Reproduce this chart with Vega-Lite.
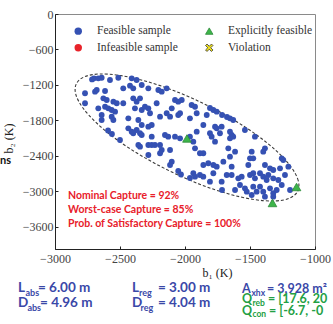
{
  "$schema": "https://vega.github.io/schema/vega-lite/v6.json",
  "width": 260,
  "height": 235,
  "autosize": {"type": "none"},
  "padding": {"left": 55, "top": 14, "right": 18, "bottom": 75},
  "background": "white",
  "config": {
    "view": {"stroke": "#8a8a8a", "strokeWidth": 1},
    "axis": {
      "labelFont": "Liberation Serif", "labelFontSize": 12, "labelColor": "#444",
      "titleFont": "Liberation Serif", "titleFontSize": 12, "titleFontWeight": "normal", "titleColor": "#222",
      "domainColor": "#222", "tickColor": "#222", "tickSize": -3, "grid": false, "labelFlush": false, "labelOverlap": false
    }
  },
  "datasets": {
    "ell": [
      {"i":0,"b1":-1133,"b2":-2995},{"i":1,"b1":-1129,"b2":-2815},{"i":2,"b1":-1184,"b2":-2586},{"i":3,"b1":-1293,"b2":-2323},
      {"i":4,"b1":-1449,"b2":-2044},{"i":5,"b1":-1642,"b2":-1768},{"i":6,"b1":-1858,"b2":-1513},{"i":7,"b1":-2083,"b2":-1298},
      {"i":8,"b1":-2301,"b2":-1136},{"i":9,"b1":-2497,"b2":-1040},{"i":10,"b1":-2659,"b2":-1014},{"i":11,"b1":-2774,"b2":-1062},
      {"i":12,"b1":-2836,"b2":-1180},{"i":13,"b1":-2840,"b2":-1359},{"i":14,"b1":-2785,"b2":-1588},{"i":15,"b1":-2676,"b2":-1851},
      {"i":16,"b1":-2520,"b2":-2131},{"i":17,"b1":-2327,"b2":-2407},{"i":18,"b1":-2111,"b2":-2661},{"i":19,"b1":-1887,"b2":-2877},
      {"i":20,"b1":-1669,"b2":-3038},{"i":21,"b1":-1472,"b2":-3135},{"i":22,"b1":-1311,"b2":-3160},{"i":23,"b1":-1195,"b2":-3113}
    ],
    "pts": [
      {"b1":-2715,"b2":-1105,"t":"F"},{"b1":-2700,"b2":-1087,"t":"F"},{"b1":-2667,"b2":-1087,"t":"F"},{"b1":-2641,"b2":-1077,"t":"F"},
      {"b1":-2577,"b2":-1116,"t":"F"},{"b1":-2513,"b2":-1077,"t":"F"},{"b1":-2410,"b2":-1087,"t":"F"},{"b1":-2372,"b2":-1116,"t":"F"},
      {"b1":-2475,"b2":-1256,"t":"F"},{"b1":-2769,"b2":-1340,"t":"F"},{"b1":-2692,"b2":-1313,"t":"F"},{"b1":-2679,"b2":-1284,"t":"F"},
      {"b1":-2615,"b2":-1301,"t":"F"},{"b1":-2423,"b2":-1212,"t":"F"},{"b1":-2398,"b2":-1256,"t":"F"},{"b1":-2333,"b2":-1200,"t":"F"},
      {"b1":-2628,"b2":-1425,"t":"F"},{"b1":-2602,"b2":-1453,"t":"F"},{"b1":-2551,"b2":-1482,"t":"F"},{"b1":-2525,"b2":-1509,"t":"F"},
      {"b1":-2475,"b2":-1509,"t":"F"},{"b1":-2398,"b2":-1425,"t":"F"},{"b1":-2372,"b2":-1482,"t":"F"},{"b1":-2346,"b2":-1425,"t":"F"},
      {"b1":-2769,"b2":-1509,"t":"F"},{"b1":-2667,"b2":-1594,"t":"F"},{"b1":-2615,"b2":-1567,"t":"F"},{"b1":-2590,"b2":-1594,"t":"F"},
      {"b1":-2564,"b2":-1622,"t":"F"},{"b1":-2538,"b2":-1651,"t":"F"},{"b1":-2385,"b2":-1594,"t":"F"},{"b1":-2333,"b2":-1622,"t":"F"},
      {"b1":-2308,"b2":-1567,"t":"F"},{"b1":-2641,"b2":-1707,"t":"F"},{"b1":-2641,"b2":-1791,"t":"F"},{"b1":-2564,"b2":-1736,"t":"F"},
      {"b1":-2551,"b2":-1791,"t":"F"},{"b1":-2436,"b2":-1763,"t":"F"},{"b1":-2359,"b2":-1791,"t":"F"},{"b1":-2333,"b2":-1876,"t":"F"},
      {"b1":-2592,"b2":-1969,"t":"F"},{"b1":-2562,"b2":-2028,"t":"F"},{"b1":-2436,"b2":-1932,"t":"F"},{"b1":-2410,"b2":-1989,"t":"F"},
      {"b1":-2372,"b2":-1960,"t":"F"},{"b1":-2333,"b2":-2045,"t":"F"},
      {"b1":-2282,"b2":-1256,"t":"F"},{"b1":-2205,"b2":-1285,"t":"F"},{"b1":-2179,"b2":-1313,"t":"F"},{"b1":-2141,"b2":-1256,"t":"F"},
      {"b1":-2218,"b2":-1509,"t":"F"},{"b1":-2282,"b2":-1594,"t":"F"},{"b1":-2269,"b2":-1678,"t":"F"},{"b1":-2192,"b2":-1736,"t":"F"},
      {"b1":-2077,"b2":-1454,"t":"F"},{"b1":-2052,"b2":-1482,"t":"F"},{"b1":-2025,"b2":-1454,"t":"F"},{"b1":-2102,"b2":-1594,"t":"F"},
      {"b1":-2141,"b2":-1678,"t":"F"},{"b1":-2115,"b2":-1736,"t":"F"},{"b1":-2052,"b2":-1707,"t":"F"},{"b1":-2038,"b2":-1678,"t":"F"},
      {"b1":-1949,"b2":-1538,"t":"F"},{"b1":-1923,"b2":-1567,"t":"F"},{"b1":-1962,"b2":-1763,"t":"F"},{"b1":-1910,"b2":-1678,"t":"F"},
      {"b1":-1808,"b2":-1589,"t":"F"},{"b1":-1782,"b2":-1623,"t":"F"},{"b1":-1756,"b2":-1651,"t":"F"},{"b1":-1833,"b2":-1707,"t":"F"},
      {"b1":-2282,"b2":-1905,"t":"F"},{"b1":-2256,"b2":-1876,"t":"F"},{"b1":-1859,"b2":-1876,"t":"F"},{"b1":-1769,"b2":-1905,"t":"F"},
      {"b1":-1756,"b2":-1932,"t":"F"},{"b1":-1910,"b2":-1989,"t":"F"},{"b1":-2154,"b2":-2045,"t":"F"},{"b1":-2129,"b2":-2074,"t":"F"},
      {"b1":-2077,"b2":-2074,"t":"F"},{"b1":-2038,"b2":-2101,"t":"F"},{"b1":-1962,"b2":-2074,"t":"F"},{"b1":-1808,"b2":-2016,"t":"F"},
      {"b1":-1795,"b2":-2074,"t":"F"},{"b1":-2256,"b2":-2074,"t":"F"},
      {"b1":-1715,"b2":-1707,"t":"F"},{"b1":-1677,"b2":-1741,"t":"F"},{"b1":-1654,"b2":-1763,"t":"F"},{"b1":-1629,"b2":-1792,"t":"F"},
      {"b1":-1718,"b2":-1905,"t":"F"},{"b1":-1654,"b2":-1989,"t":"F"},{"b1":-1641,"b2":-2045,"t":"F"},{"b1":-1654,"b2":-2101,"t":"F"},
      {"b1":-1629,"b2":-2074,"t":"F"},{"b1":-1539,"b2":-1961,"t":"F"},{"b1":-1462,"b2":-2074,"t":"F"},{"b1":-1667,"b2":-2270,"t":"F"},
      {"b1":-1615,"b2":-2327,"t":"F"},{"b1":-1385,"b2":-2270,"t":"F"},{"b1":-1398,"b2":-2327,"t":"F"},{"b1":-1487,"b2":-2327,"t":"F"},
      {"b1":-1654,"b2":-2412,"t":"F"},{"b1":-1500,"b2":-2439,"t":"F"},{"b1":-1475,"b2":-2439,"t":"F"},{"b1":-1256,"b2":-2439,"t":"F"},
      {"b1":-1244,"b2":-2468,"t":"F"},
      {"b1":-2500,"b2":-2130,"t":"F"},{"b1":-2398,"b2":-2016,"t":"F"},{"b1":-2346,"b2":-2016,"t":"F"},{"b1":-2359,"b2":-2214,"t":"F"},
      {"b1":-2346,"b2":-2243,"t":"F"},{"b1":-2282,"b2":-2214,"t":"F"},{"b1":-2282,"b2":-2383,"t":"F"},
      {"b1":-2256,"b2":-2214,"t":"F"},{"b1":-2231,"b2":-2214,"t":"F"},{"b1":-2192,"b2":-2214,"t":"F"},{"b1":-2179,"b2":-2299,"t":"F"},
      {"b1":-2192,"b2":-2354,"t":"F"},{"b1":-2115,"b2":-2299,"t":"F"},{"b1":-1936,"b2":-2158,"t":"F"},{"b1":-1923,"b2":-2270,"t":"F"},
      {"b1":-1859,"b2":-2354,"t":"F"},{"b1":-1885,"b2":-2354,"t":"F"},{"b1":-1769,"b2":-2158,"t":"F"},{"b1":-1731,"b2":-2016,"t":"F"},
      {"b1":-2102,"b2":-2496,"t":"F"},{"b1":-2115,"b2":-2552,"t":"F"},{"b1":-2052,"b2":-2654,"t":"F"},{"b1":-2031,"b2":-2713,"t":"F"},
      {"b1":-1962,"b2":-2772,"t":"F"},{"b1":-1936,"b2":-2692,"t":"F"},{"b1":-1923,"b2":-2750,"t":"F"},{"b1":-1859,"b2":-2552,"t":"F"},
      {"b1":-1821,"b2":-2523,"t":"F"},{"b1":-1782,"b2":-2552,"t":"F"},{"b1":-1756,"b2":-2581,"t":"F"},{"b1":-1885,"b2":-2721,"t":"F"},
      {"b1":-1859,"b2":-2750,"t":"F"},{"b1":-1782,"b2":-2692,"t":"F"},{"b1":-1718,"b2":-2834,"t":"F"},{"b1":-1808,"b2":-2834,"t":"F"},
      {"b1":-1705,"b2":-2496,"t":"F"},{"b1":-1641,"b2":-2581,"t":"F"},{"b1":-1513,"b2":-2552,"t":"F"},{"b1":-1385,"b2":-2552,"t":"F"},
      {"b1":-1346,"b2":-2608,"t":"F"},{"b1":-1321,"b2":-2637,"t":"F"},{"b1":-1269,"b2":-2608,"t":"F"},{"b1":-1231,"b2":-2721,"t":"F"},
      {"b1":-1205,"b2":-2581,"t":"F"},{"b1":-1679,"b2":-2721,"t":"F"},{"b1":-1641,"b2":-2721,"t":"F"},{"b1":-1590,"b2":-2777,"t":"F"},
      {"b1":-1564,"b2":-2750,"t":"F"},{"b1":-1500,"b2":-2721,"t":"F"},{"b1":-1475,"b2":-2692,"t":"F"},{"b1":-1462,"b2":-2777,"t":"F"},
      {"b1":-1423,"b2":-2692,"t":"F"},{"b1":-1398,"b2":-2750,"t":"F"},{"b1":-1372,"b2":-2806,"t":"F"},{"b1":-1359,"b2":-2721,"t":"F"},
      {"b1":-1321,"b2":-2777,"t":"F"},{"b1":-1282,"b2":-2806,"t":"F"},{"b1":-1256,"b2":-2890,"t":"F"},{"b1":-1577,"b2":-2890,"t":"F"},
      {"b1":-1539,"b2":-2946,"t":"F"},{"b1":-1525,"b2":-3003,"t":"F"},{"b1":-1615,"b2":-2975,"t":"F"},{"b1":-1475,"b2":-2919,"t":"F"},
      {"b1":-1449,"b2":-3003,"t":"F"},{"b1":-1423,"b2":-2919,"t":"F"},{"b1":-1398,"b2":-3003,"t":"F"},{"b1":-1346,"b2":-2946,"t":"F"},
      {"b1":-1321,"b2":-3030,"t":"F"},{"b1":-1295,"b2":-2975,"t":"F"},{"b1":-1715,"b2":-2975,"t":"F"},{"b1":-1487,"b2":-3059,"t":"F"},
      {"b1":-1385,"b2":-3088,"t":"F"},{"b1":-1321,"b2":-3088,"t":"F"},{"b1":-1192,"b2":-2975,"t":"F"}
    ],
    "tri": [
      {"b1":-1985,"b2":-2104,"t":"E"},{"b1":-1142,"b2":-2924,"t":"E"},{"b1":-1327,"b2":-3194,"t":"E"}
    ],
    "red": [
      {"b1":-2900,"b2":-3127,"text":"Nominal Capture = 92%"},
      {"b1":-2900,"b2":-3368,"text":"Worst-case Capture = 85%"},
      {"b1":-2900,"b2":-3595,"text":"Prob. of Satisfactory Capture = 100%"}
    ],
    "side": [{"b1":-3423,"b2":-2535,"text":"ns"}],
    "main": [
      {"b1":-3285,"b2":-4693,"text":"L","g":"b"},{"b1":-3285,"b2":-4947,"text":"D","g":"b"},
      {"b1":-2408,"b2":-4693,"text":"L","g":"b"},{"b1":-2408,"b2":-4947,"text":"D","g":"b"},
      {"b1":-1562,"b2":-4710,"text":"A","g":"b"},{"b1":-1562,"b2":-4890,"text":"Q","g":"g"},
      {"b1":-1562,"b2":-5092,"text":"Q","g":"g"}
    ],
    "sub": [
      {"b1":-3227,"b2":-4766,"text":"abs","g":"b"},{"b1":-3212,"b2":-5020,"text":"abs","g":"b"},
      {"b1":-2354,"b2":-4766,"text":"reg","g":"b"},{"b1":-2342,"b2":-5020,"text":"reg","g":"b"},
      {"b1":-1489,"b2":-4766,"text":"xhx","g":"b"},{"b1":-1481,"b2":-4935,"text":"reb","g":"g"},
      {"b1":-1481,"b2":-5129,"text":"con","g":"g"}
    ],
    "rest": [
      {"b1":-3131,"b2":-4693,"text":"= 6.00 m","g":"b"},{"b1":-3115,"b2":-4947,"text":"= 4.96 m","g":"b"},
      {"b1":-2208,"b2":-4693,"text":"= 3.00 m","g":"b"},{"b1":-2208,"b2":-4947,"text":"= 4.04 m","g":"b"},
      {"b1":-1369,"b2":-4710,"text":"= 3,928 m²","g":"b"},{"b1":-1362,"b2":-4890,"text":"= [17.6, 20","g":"g"},
      {"b1":-1354,"b2":-5092,"text":"= [-6.7, -0","g":"g"}
    ]
  },
  "layer": [
    {
      "data": {"name": "ell"},
      "mark": {"type": "line", "interpolate": "cardinal-closed", "strokeDash": [3, 2], "stroke": "#3a3a3a", "strokeWidth": 1.1},
      "encoding": {
        "x": {"field": "b1", "type": "quantitative",
              "scale": {"domain": [-3000, -1000], "nice": false, "zero": false},
              "axis": {"values": [-3000, -2500, -2000, -1500, -1000], "tickCount": 10, "format": "d", "title": "b₁ (K)", "labelOverlap": false,
                       "labelPadding": 7, "titleX": 162, "titleY": 23, "titleBaseline": "middle", "titleAlign": "center"}},
        "y": {"field": "b2", "type": "quantitative",
              "scale": {"domain": [-3972, 0], "nice": false, "zero": false},
              "axis": {"values": [0, -600, -1200, -1800, -2400, -3000, -3600], "tickCount": 10, "format": "d", "title": "b₂ (K)",
                       "labelOverlap": false, "labelBound": false,
                       "labelPadding": 5, "titleX": -47, "titleY": 124, "titleAngle": -90, "titleBaseline": "middle", "titleAlign": "center"}},
        "order": {"field": "i", "type": "quantitative"}
      }
    },
    {
      "data": {"name": "pts"},
      "mark": {"type": "point", "filled": true, "size": 34, "opacity": 1, "strokeWidth": 0},
      "encoding": {
        "x": {"field": "b1", "type": "quantitative"},
        "y": {"field": "b2", "type": "quantitative"},
        "color": {"field": "t", "type": "nominal",
                  "scale": {"domain": ["F", "I", "E", "V"], "range": ["#3551b3", "#e8232a", "#3db54a", "#f0e21c"]},
                  "legend": {"title": null, "orient": "none", "legendX": 17.5, "legendY": 11, "columns": 2,
                             "columnPadding": 25, "rowPadding": 4, "symbolSize": 55, "padding": 0,
                             "labelFont": "Liberation Serif", "labelFontSize": 11.5, "labelColor": "#333", "labelOffset": 13,
                             "labelExpr": "datum.label=='F'?'Feasible sample':datum.label=='E'?'Explicitly feasible':datum.label=='I'?'Infeasible sample':'Violation'",
                             "symbolOpacity": 1,
                             "encode": {"symbols": {"update": {
                               "stroke": {"signal": "datum.value=='E'?'#2d8a3a':datum.value=='V'?'#333333':'transparent'"},
                               "strokeWidth": {"value": 0.8}}}}}},
        "shape": {"field": "t", "type": "nominal",
                  "scale": {"domain": ["F", "I", "E", "V"],
                            "range": ["circle", "circle", "triangle-up", "M-1,-0.6L-0.6,-1L0,-0.4L0.6,-1L1,-0.6L0.4,0L1,0.6L0.6,1L0,0.4L-0.6,1L-1,0.6L-0.4,0Z"]}}
      }
    },
    {
      "data": {"name": "tri"},
      "mark": {"type": "point", "filled": true, "size": 75, "opacity": 1, "stroke": "#2d8a3a", "strokeWidth": 0.8},
      "encoding": {
        "x": {"field": "b1", "type": "quantitative"},
        "y": {"field": "b2", "type": "quantitative"},
        "color": {"field": "t", "type": "nominal"},
        "shape": {"field": "t", "type": "nominal"}
      }
    },
    {
      "data": {"name": "red"},
      "mark": {"type": "text", "align": "left", "baseline": "alphabetic", "font": "Lato", "fontWeight": "bold", "fontSize": 10.5, "color": "#e8202a"},
      "encoding": {
        "x": {"field": "b1", "type": "quantitative"},
        "y": {"field": "b2", "type": "quantitative"},
        "text": {"field": "text"}
      }
    },
    {
      "data": {"name": "side"},
      "mark": {"type": "text", "align": "left", "baseline": "alphabetic", "font": "Lato", "fontWeight": "bold", "fontSize": 11, "color": "#111"},
      "encoding": {
        "x": {"field": "b1", "type": "quantitative"},
        "y": {"field": "b2", "type": "quantitative"},
        "text": {"field": "text"}
      }
    },
    {
      "data": {"name": "main"},
      "mark": {"type": "text", "align": "left", "baseline": "alphabetic", "font": "Lato", "fontWeight": "bold"},
      "encoding": {
        "x": {"field": "b1", "type": "quantitative"},
        "y": {"field": "b2", "type": "quantitative"},
        "text": {"field": "text"},
        "size": {"condition": {"test": "datum.b1 > -1700", "value": 12.5}, "value": 13.5},
        "color": {"condition": {"test": "datum.g === 'g'", "value": "#23a044"}, "value": "#3a48a8"}
      }
    },
    {
      "data": {"name": "sub"},
      "mark": {"type": "text", "align": "left", "baseline": "alphabetic", "font": "Lato", "fontWeight": "bold"},
      "encoding": {
        "x": {"field": "b1", "type": "quantitative"},
        "y": {"field": "b2", "type": "quantitative"},
        "text": {"field": "text"},
        "size": {"condition": {"test": "datum.b1 > -1700", "value": 8.5}, "value": 9},
        "color": {"condition": {"test": "datum.g === 'g'", "value": "#23a044"}, "value": "#3a48a8"}
      }
    },
    {
      "data": {"name": "rest"},
      "mark": {"type": "text", "align": "left", "baseline": "alphabetic", "font": "Lato", "fontWeight": "bold"},
      "encoding": {
        "x": {"field": "b1", "type": "quantitative"},
        "y": {"field": "b2", "type": "quantitative"},
        "text": {"field": "text"},
        "size": {"condition": {"test": "datum.b1 > -1700", "value": 12.5}, "value": 13.5},
        "color": {"condition": {"test": "datum.g === 'g'", "value": "#23a044"}, "value": "#3a48a8"}
      }
    }
  ]
}
